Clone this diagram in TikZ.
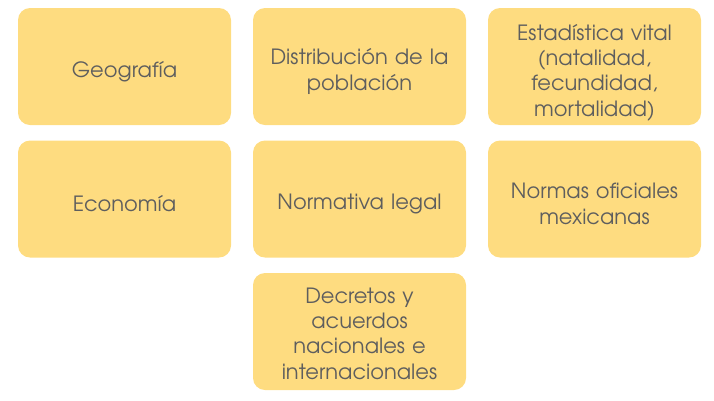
\documentclass[tikz,border=0pt]{standalone}
\usepackage{fontspec}
\setmainfont{TeX Gyre Adventor}
\definecolor{boxfill}{HTML}{FEDC80}
\definecolor{txt}{HTML}{5E5E5E}
\begin{document}
\begin{tikzpicture}[x=1pt,y=-1pt,
  cell/.style={fill=boxfill, draw=none, rounded corners=12pt, minimum width=213pt, minimum height=117pt, inner sep=0pt},
  lbl/.style={text width=205pt, align=center, text=txt, font=\fontsize{21}{25.4}\selectfont, inner sep=0pt}]
\useasboundingbox (0,0) rectangle (714,400);
\node[cell] (geo) at (124.5,66.5) {};
\node[cell] (dist) at (359.5,66.5) {};
\node[cell] (est) at (594.5,66.5) {};
\node[cell] (eco) at (124.5,199) {};
\node[cell] (norm) at (359.5,199) {};
\node[cell] (nom) at (594.5,199) {};
\node[cell] (dec) at (359.5,331.5) {};
\node[lbl] (geo-t) at ([yshift=-5pt]geo.center) {Geografía};
\node[lbl] (dist-t) at ([yshift=-5pt]dist.center) {Distribución de la\\población};
\node[lbl] (est-t) at ([yshift=-6pt]est.center) {Estadística vital\\(natalidad,\\fecundidad,\\mortalidad)};
\node[lbl] (eco-t) at ([yshift=-5pt]eco.center) {Economía};
\node[lbl] (norm-t) at ([yshift=-5pt]norm.center) {Normativa legal};
\node[lbl] (nom-t) at ([yshift=-5pt]nom.center) {Normas oficiales\\mexicanas};
\node[lbl] (dec-t) at ([yshift=-2pt]dec.center) {Decretos y\\acuerdos\\nacionales e\\internacionales};
\end{tikzpicture}
\end{document}
